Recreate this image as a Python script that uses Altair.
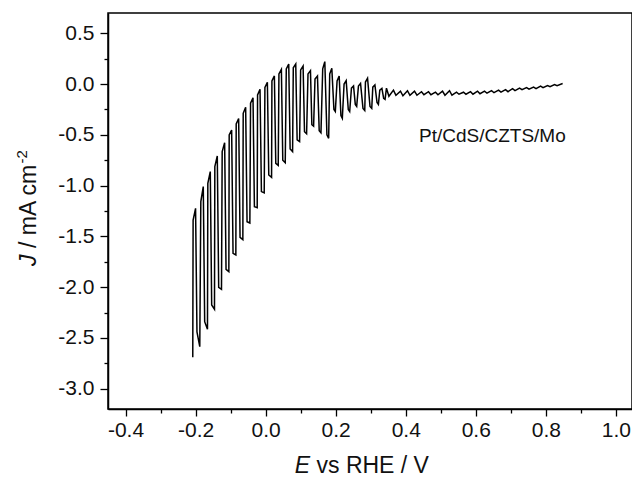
import altair as alt
import pandas as pd

# ---- data ----
# chopped-light part: per cycle A (after rise), B (peak), C (after fall), D (bottom)
start_E = [-0.208]
start_J = [-2.69]

chop_E = [
    -0.207, -0.200, -0.196, -0.188,
    -0.185, -0.178, -0.174, -0.166,
    -0.165, -0.158, -0.154, -0.146,
    -0.145, -0.138, -0.134, -0.126,
    -0.124, -0.117, -0.113, -0.105,
    -0.104, -0.097, -0.093, -0.085,
    -0.084, -0.077, -0.073, -0.065,
    -0.064, -0.057, -0.053, -0.045,
    -0.043, -0.036, -0.032, -0.024,
    -0.023, -0.016, -0.012, -0.004,
    -0.002, 0.005, 0.009, 0.017,
    0.018, 0.025, 0.029, 0.036,
    0.038, 0.045, 0.049, 0.056,
    0.059, 0.066, 0.070, 0.077,
    0.079, 0.086, 0.090, 0.097,
    0.100, 0.107, 0.111, 0.117,
    0.121, 0.128, 0.132, 0.137,
    0.141, 0.148, 0.153, 0.158,
    0.163, 0.169, 0.175, 0.180,
    0.183, 0.189, 0.195, 0.199,
    0.204, 0.210, 0.215, 0.219,
    0.224, 0.230, 0.236, 0.240,
    0.245, 0.251, 0.256, 0.260,
    0.265, 0.271, 0.278, 0.283,
    0.285, 0.291, 0.298, 0.303,
    0.306, 0.312, 0.318, 0.322,
    0.326, 0.332, 0.337, 0.341,
]
chop_J = [
    -1.340, -1.224, -2.440, -2.586,
    -1.158, -1.010, -2.340, -2.415,
    -0.977, -0.862, -2.176, -2.218,
    -0.813, -0.708, -2.002, -2.021,
    -0.665, -0.577, -1.824, -1.847,
    -0.501, -0.452, -1.667, -1.683,
    -0.393, -0.340, -1.509, -1.532,
    -0.288, -0.229, -1.355, -1.368,
    -0.189, -0.134, -1.207, -1.218,
    -0.107, -0.052, -1.059, -1.072,
    -0.032, 0.017, -0.895, -0.918,
    0.031, 0.080, -0.780, -0.800,
    0.100, 0.145, -0.750, -0.775,
    0.150, 0.198, -0.640, -0.665,
    0.160, 0.198, -0.550, -0.567,
    0.140, 0.178, -0.470, -0.490,
    0.100, 0.132, -0.400, -0.415,
    0.050, 0.080, -0.460, -0.480,
    0.150, 0.221, -0.500, -0.534,
    0.100, 0.155, -0.250, -0.270,
    0.030, 0.080, -0.310, -0.337,
    0.000, 0.034, -0.250, -0.270,
    -0.040, -0.019, -0.200, -0.220,
    -0.020, 0.007, -0.240, -0.260,
    0.020, 0.057, -0.220, -0.240,
    -0.030, -0.009, -0.180, -0.200,
    -0.060, -0.042, -0.140, -0.150,
]

# small ripple part: alternating top / bottom
ripple_E = [
    0.345, 0.352, 0.365, 0.372, 0.385, 0.392, 0.405, 0.412, 0.425, 0.432,
    0.445, 0.452, 0.465, 0.472, 0.485, 0.492, 0.505, 0.512, 0.525, 0.532,
    0.545, 0.552, 0.565, 0.572, 0.585, 0.592, 0.605, 0.612, 0.625, 0.632,
    0.645, 0.652, 0.665, 0.672, 0.685, 0.692, 0.705, 0.712, 0.725, 0.732,
    0.745, 0.752, 0.765, 0.772, 0.785, 0.792, 0.805, 0.812, 0.825, 0.832,
    0.848,
]
ripple_J = [
    -0.040, -0.120, -0.060, -0.110, -0.070, -0.115, -0.065, -0.110, -0.070, -0.110,
    -0.075, -0.105, -0.075, -0.105, -0.080, -0.105, -0.070, -0.110, -0.065, -0.110,
    -0.080, -0.100, -0.080, -0.100, -0.075, -0.100, -0.070, -0.095, -0.070, -0.090,
    -0.065, -0.085, -0.060, -0.080, -0.055, -0.075, -0.045, -0.065, -0.040, -0.055,
    -0.035, -0.050, -0.030, -0.045, -0.020, -0.035, -0.015, -0.025, -0.005, -0.015,
    0.005,
]

x_ticks = [-0.4, -0.3, -0.2, -0.1, 0.0, 0.1, 0.2, 0.3, 0.4, 0.5, 0.6, 0.7, 0.8, 0.9, 1.0]
y_ticks = [0.5, 0.25, 0.0, -0.25, -0.5, -0.75, -1.0, -1.25, -1.5, -1.75, -2.0,
           -2.25, -2.5, -2.75, -3.0]

E_all = start_E + chop_E + ripple_E
J_all = start_J + chop_J + ripple_J
df = pd.DataFrame({"E": E_all, "J": J_all, "i": list(range(len(E_all)))})

FONT = "Liberation Sans"
W, H = 524, 396

major_x = "abs(datum.value*5 - round(datum.value*5)) < 0.001"
major_y = "abs(datum.value*2 - round(datum.value*2)) < 0.001"

xscale = alt.Scale(domain=[-0.45, 1.046], nice=False, zero=False)
yscale = alt.Scale(domain=[-3.2, 0.7], nice=False, zero=False)

line = alt.Chart(df).mark_line(color="black", strokeWidth=1.5, strokeJoin="miter").encode(
    x=alt.X("E:Q", scale=xscale, axis=alt.Axis(
        values=x_ticks, title=None, grid=False, labelFlush=False,
        labelExpr=f"{major_x} ? replace(format(datum.value, '.1f'), '\u2212', '-') : ''",
        tickSize={"condition": {"test": major_x, "value": 7}, "value": 4},
        tickColor="black", tickWidth=1.3, domainColor="black", domainWidth=1.5,
        labelFont=FONT, labelFontSize=21, labelColor="#111", labelPadding=3,
    )),
    y=alt.Y("J:Q", scale=yscale, axis=alt.Axis(
        values=y_ticks, title=None, grid=False, labelFlush=False,
        labelExpr=f"{major_y} ? replace(format(datum.value, '.1f'), '\u2212', '-') : ''",
        tickSize={"condition": {"test": major_y, "value": 8}, "value": 4},
        tickColor="black", tickWidth=1.3, domainColor="black", domainWidth=1.5,
        labelFont=FONT, labelFontSize=21, labelColor="#111", labelPadding=6,
    )),
    order="i:Q",
)

label_df = pd.DataFrame({"t": ["Pt/CdS/CZTS/Mo"]})
annot = alt.Chart(label_df).mark_text(
    font=FONT, fontSize=19, align="left", baseline="middle", color="#111"
).encode(x=alt.value(311), y=alt.value(123), text="t:N")

def txt(s, x, y, size=23, italic=False, angle=0, align="left", baseline="alphabetic"):
    d = pd.DataFrame({"t": [s]})
    kw = dict(font=FONT, fontSize=size, align=align, baseline=baseline, color="#111", angle=angle)
    if italic:
        kw["fontStyle"] = "italic"
    return alt.Chart(d).mark_text(**kw).encode(x=alt.value(x), y=alt.value(y), text="t:N")

# x title: "E vs RHE / V"
xt1 = txt("E", 202, 460, italic=True, align="right")
xt2 = txt("vs RHE / V", 208.5, 460)
# y title: "J / mA cm-2" rotated
yx = -72
y0 = 253
yt1 = txt("J", yx, y0, italic=True, angle=270)
yt2 = txt("/ mA cm", yx, y0 - 18, angle=270)
yt3 = txt("-2", yx - 9, y0 - 18 - 84.5, size=15, angle=270)

chart = alt.layer(line, annot, xt1, xt2, yt1, yt2, yt3).properties(
    width=W, height=H,
    autosize=alt.AutoSizeParams(type="none"),
    padding={"left": 100, "top": 5, "right": 0, "bottom": 69},
).configure_view(stroke="black", strokeWidth=1.5)

chart.save("out.html", embed_options={"renderer": "svg", "actions": False})
